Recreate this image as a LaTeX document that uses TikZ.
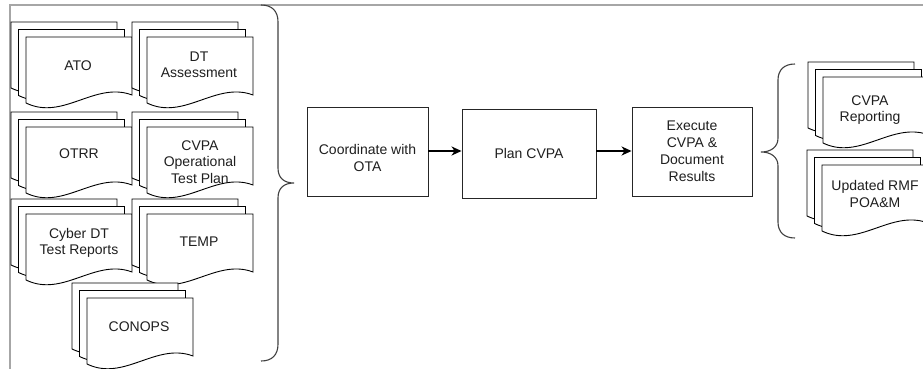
\documentclass[tikz,border=0pt]{standalone}
\usepackage{fontspec}
\setmainfont{Liberation Sans}
\usetikzlibrary{arrows.meta}

% one sheet of paper with a wavy lower edge: x, y (top left), width
\newcommand\docsheet[3]{%
  \filldraw[docline] (#1,#2) -- ({#1+#3},#2) -- ({#1+#3},{#2+58})
    .. controls ({#1+0.65*#3},{#2+44}) and ({#1+0.35*#3},{#2+84}) .. (#1,{#2+66}) -- cycle;}
% a stack of three sheets, back sheet's top left corner given
\newcommand\multidoc[2]{%
  \docsheet{#1}{#2}{106}%
  \docsheet{#1+7.5}{#2+7.5}{106}%
  \docsheet{#1+15}{#2+15}{106}}

\begin{document}
\begin{tikzpicture}[x=1pt,y=-1pt,
  docline/.style={draw=black, fill=white, line width=0.9pt, line join=miter},
  doctext/.style={align=center, font=\fontsize{14}{16.5}\selectfont, text=black!88, inner sep=0pt},
  stepbox/.style={draw=black!85, line width=0.9pt, fill=white, align=center,
    font=\fontsize{14}{17}\selectfont, text=black!88, inner sep=0pt},
  flow/.style={-{Stealth[length=10pt,width=9pt,inset=3pt]}, line width=1.6pt},
  brace/.style={draw=black!75, line width=1.1pt},
  frame/.style={draw=black!35, line width=2pt}]
\useasboundingbox (0,0) rectangle (923,369);

% surrounding frame
\draw[frame] (10,369) -- (10,5) -- (923,5);

% input documents
\multidoc{11}{22}
\multidoc{132}{22}
\multidoc{11}{112}
\multidoc{132}{112}
\multidoc{11}{199}
\multidoc{132}{199}
\multidoc{72}{283}

\node[doctext] (ato)   at (78,66)   {ATO};
\node[doctext] (dta)   at (199,65)  {DT\\Assessment};
\node[doctext] (otrr)  at (79,154)  {OTRR};
\node[doctext] (cvpaop) at (200,162) {CVPA\\Operational\\Test Plan};
\node[doctext] (cyber) at (79,243)  {Cyber DT\\Test Reports};
\node[doctext] (temp)  at (199,242) {TEMP};
\node[doctext] (conops) at (139,327) {CONOPS};

% output documents
\multidoc{808}{62}
\multidoc{807}{150}
\node[doctext] (rep) at (870,110) {CVPA\\Reporting};
\node[doctext] (rmf) at (875,194) {Updated RMF\\POA\&M};

% braces
\draw[brace] (261,5) .. controls (272,5) and (278,11) .. (278,22) -- (278,168)
  .. controls (278,178) and (284,183) .. (294,183)
  .. controls (284,183) and (278,188) .. (278,198) -- (278,344)
  .. controls (278,355) and (272,361) .. (261,361);
\draw[brace] (795,64) .. controls (784,64) and (778,70) .. (778,80) -- (778,138)
  .. controls (778,147) and (771,152) .. (761,152)
  .. controls (771,152) and (778,157) .. (778,166) -- (778,222)
  .. controls (778,232) and (784,238) .. (795,238);

% process steps
\node[stepbox, minimum width=121pt, minimum height=89pt,
  label={[stepbox, draw=none, fill=none, yshift=-6pt]center:Coordinate with\\OTA}] (coord) at (367.5,151.5) {};
\node[stepbox, minimum width=134pt, minimum height=89pt] (plan)  at (529,153.5) {Plan CVPA};
\node[stepbox, minimum width=120pt, minimum height=89pt] (exec)  at (692,151.5) {Execute\\CVPA \&\\Document\\Results};

\draw[flow] (coord.east |- 0,151) -- (plan.west |- 0,151);
\draw[flow] (plan.east |- 0,151) -- (exec.west |- 0,151);
\end{tikzpicture}
\end{document}
